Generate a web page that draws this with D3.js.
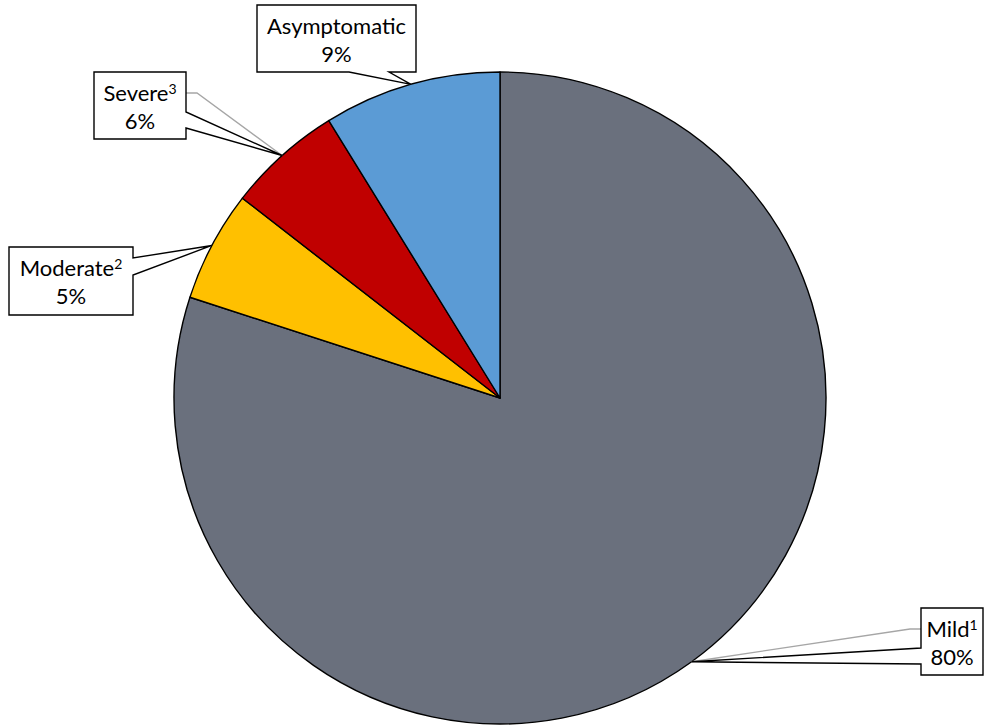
<!DOCTYPE html>
<html>
<head>
<meta charset="utf-8">
<script src="https://cdn.jsdelivr.net/npm/d3@7"></script>
<style>
  body { margin: 0; background: #fff; }
  text { font-family: Lato, "Open Sans", sans-serif; }
</style>
</head>
<body>
<div id="chart"></div>
<script>
// slice data, clockwise from 12 o'clock
const categories = ["Mild", "Moderate", "Severe", "Asymptomatic"];
const superscripts = ["1", "2", "3", ""];
const values = [80.0, 5.5, 5.7, 8.8];
const pctLabels = ["80%", "5%", "6%", "9%"];
const colors = ["#6A707D", "#FFC000", "#C00000", "#5B9BD5"];

// callout boxes (layout only)
const boxes = [
    {x: 921, y: 608, w: 62, h: 67, side: "left", wedge: [648, 664], leader: 629},
    {x: 9, y: 247, w: 124, h: 68, side: "right", wedge: [258, 275], leader: null},
    {x: 94, y: 72, w: 92, h: 67, side: "right", wedge: [112, 128], leader: 93},
    {x: 257, y: 5, w: 159, h: 67, side: "bottom", wedge: [349, 389], leader: null}
];

const width = 985, height = 725;
const cx = 500, cy = 398, radius = 326;

const svg = d3.select("#chart")
    .append("svg")
    .attr("width", width)
    .attr("height", height);

const pie = d3.pie().sort(null).value(d => d)(values);
const arc = d3.arc().innerRadius(0).outerRadius(radius);

const g = svg.append("g")
    .attr("transform", "translate(" + cx + "," + cy + ")");

g.selectAll("path")
    .data(pie)
    .enter()
    .append("path")
    .attr("d", arc)
    .attr("fill", (d, i) => colors[i])
    .attr("stroke", "#000")
    .attr("stroke-width", 1.4)
    .attr("stroke-linejoin", "round");

// point on the rim at the middle of each slice
function rimPoint(d) {
    const a = (d.startAngle + d.endAngle) / 2;
    return [cx + radius * Math.sin(a), cy - radius * Math.cos(a)];
}

pie.forEach((d, i) => {
    const b = boxes[i];
    const [px, py] = rimPoint(d);
    const x0 = b.x, x1 = b.x + b.w, y0 = b.y, y1 = b.y + b.h;
    let pts;
    if (b.side === "bottom") {
        pts = [[x0, y0], [x1, y0], [x1, y1], [b.wedge[1], y1], [px, py], [b.wedge[0], y1], [x0, y1]];
    } else if (b.side === "right") {
        pts = [[x0, y0], [x1, y0], [x1, b.wedge[0]], [px, py], [x1, b.wedge[1]], [x1, y1], [x0, y1]];
    } else {
        pts = [[x0, y0], [x1, y0], [x1, y1], [x0, y1], [x0, b.wedge[1]], [px, py], [x0, b.wedge[0]]];
    }

    if (b.leader !== null) {
        const lx = b.side === "left" ? x0 : x1;
        const kx = b.side === "left" ? x0 - 11 : x1 + 11;
        svg.append("polyline")
            .attr("points", [[lx, b.leader], [kx, b.leader], [px, py]].map(p => p.join(",")).join(" "))
            .attr("fill", "none")
            .attr("stroke", "#A6A6A6")
            .attr("stroke-width", 1.3);
    }

    svg.append("path")
        .attr("d", "M" + pts.map(p => p.join(",")).join("L") + "Z")
        .attr("fill", "#fff")
        .attr("stroke", "#000")
        .attr("stroke-width", 1.4)
        .attr("stroke-linejoin", "miter");

    const t = svg.append("text")
        .attr("text-anchor", "middle")
        .attr("font-size", 22)
        .attr("fill", "#000");
    const tx = x0 + b.w / 2;
    const first = t.append("tspan")
        .attr("x", tx)
        .attr("y", y0 + 29)
        .text(categories[i]);
    if (superscripts[i]) {
        first.append("tspan")
            .attr("dy", -7)
            .attr("font-size", 14)
            .text(superscripts[i]);
    }
    svg.append("text")
        .attr("text-anchor", "middle")
        .attr("font-size", 22)
        .attr("x", tx)
        .attr("y", y0 + 57)
        .text(pctLabels[i]);
});
</script>
</body>
</html>
